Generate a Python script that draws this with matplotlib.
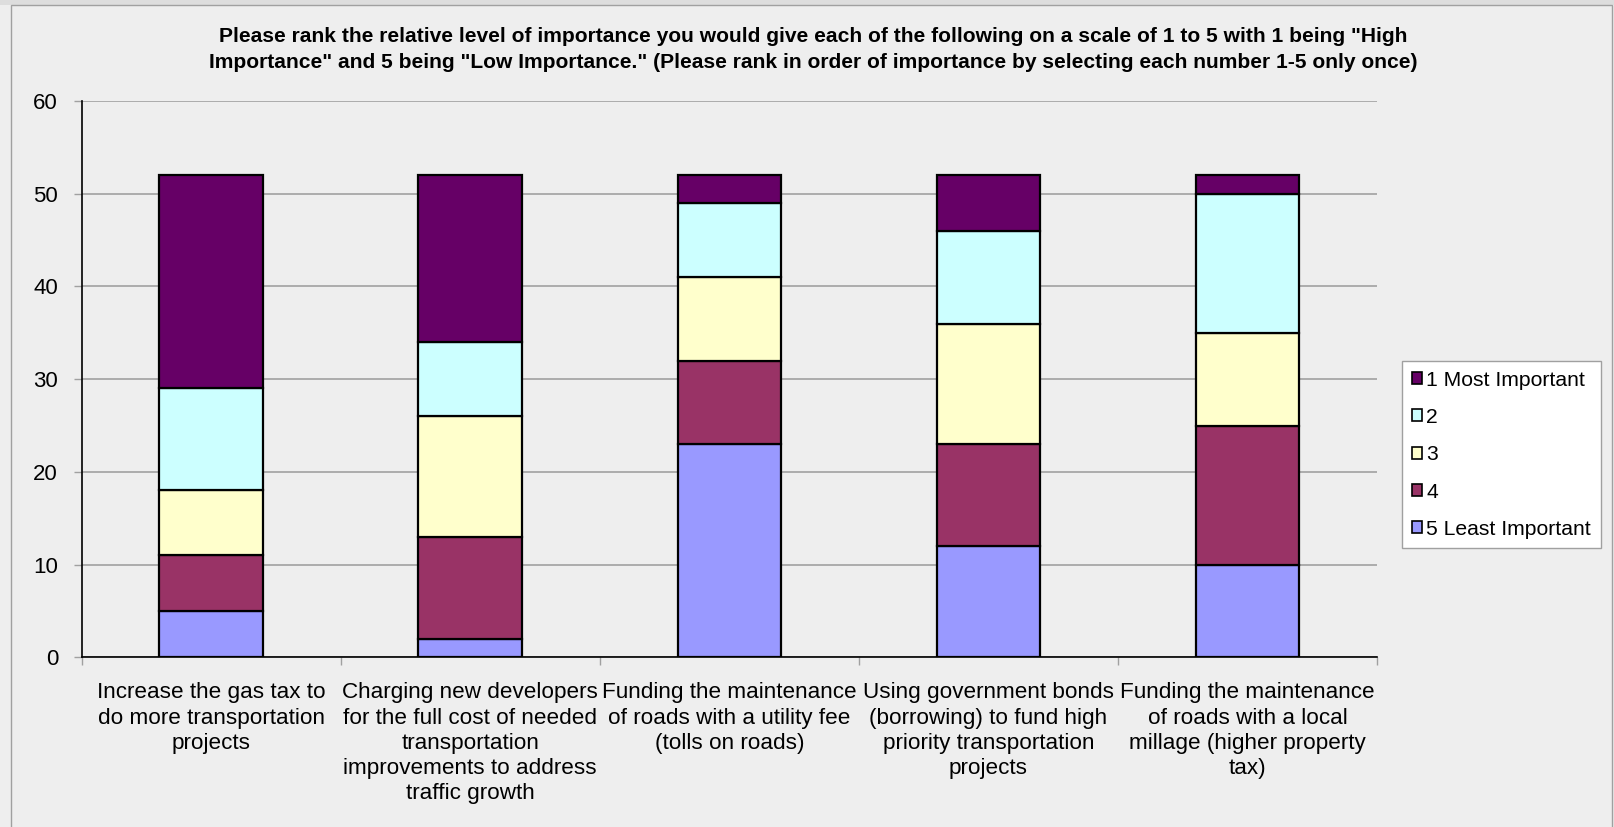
import matplotlib
matplotlib.use("Agg")
import matplotlib.pyplot as plt
from matplotlib.patches import Rectangle
import numpy as np

plt.rcParams['font.family'] = ['Liberation Sans', 'DejaVu Sans']

categories = [
    "Increase the gas tax to\ndo more transportation\nprojects",
    "Charging new developers\nfor the full cost of needed\ntransportation\nimprovements to address\ntraffic growth",
    "Funding the maintenance\nof roads with a utility fee\n(tolls on roads)",
    "Using government bonds\n(borrowing) to fund high\npriority transportation\nprojects",
    "Funding the maintenance\nof roads with a local\nmillage (higher property\ntax)",
]
series_names = ["1 Most Important", "2", "3", "4", "5 Least Important"]
rank1 = [23, 18, 3, 6, 2]
rank2 = [11, 8, 8, 10, 15]
rank3 = [7, 13, 9, 13, 10]
rank4 = [6, 11, 9, 11, 15]
rank5 = [5, 2, 23, 12, 10]
colors = ["#660066", "#CCFFFF", "#FFFFCC", "#993366", "#9999FF"]
title = ('Please rank the relative level of importance you would give each of the following on a scale of 1 to 5 with 1 being "High\n'
         'Importance" and 5 being "Low Importance." (Please rank in order of importance by selecting each number 1-5 only once)')
yticks = [0, 10, 20, 30, 40, 50, 60]

W, H = 1614, 827
fig = plt.figure(figsize=(W / 100, H / 100), dpi=100)
fig.patch.set_facecolor("#EEEEEE")
# top strip and chart frame
fig.patches.append(Rectangle((0, (H - 5) / H), 1, 5 / H, transform=fig.transFigure,
                             facecolor="#DDDDDD", edgecolor="none", zorder=0))
fig.patches.append(Rectangle((11 / W, -0.01), (1612 - 11) / W, (H - 5) / H + 0.01, transform=fig.transFigure,
                             facecolor="none", edgecolor="#A0A0A0", linewidth=1.0, zorder=1))

ax = fig.add_axes([81.7 / W, (H - 657.3) / H, (1377 - 81.7) / W, (657.3 - 101) / H])
ax.set_facecolor("#EEEEEE")

x = np.arange(len(categories))
stack = [rank5, rank4, rank3, rank2, rank1]
stack_names = series_names[::-1]
stack_colors = colors[::-1]
bottom = np.zeros(len(categories))
handles = {}
for vals, name, c in zip(stack, stack_names, stack_colors):
    b = ax.bar(x, vals, width=0.4, bottom=bottom, color=c, edgecolor="black",
               linewidth=1.6, label=name, zorder=3)
    handles[name] = b
    bottom += np.array(vals)

ax.set_xlim(-0.5, len(categories) - 0.5)
ax.set_ylim(0, 60)
ax.set_yticks(yticks)
ax.set_yticklabels([str(v) for v in yticks], fontsize=16)
ax.yaxis.grid(True, color="#A0A0A0", linewidth=1.2, zorder=0)
ax.set_axisbelow(True)
ax.tick_params(axis="y", length=6, color="#A0A0A0", width=1, pad=11)

ax.set_xticks(np.arange(-0.5, len(categories) + 0.5, 1.0))
ax.set_xticklabels([])
ax.tick_params(axis="x", length=6, color="#A0A0A0", width=1)
for i, lab in enumerate(categories):
    ax.text(i, -0.045, lab, transform=ax.get_xaxis_transform(), ha="center", va="top",
            fontsize=16.2, linespacing=1.265)

for s in ["top", "right"]:
    ax.spines[s].set_visible(False)
ax.spines["left"].set_color("black")
ax.spines["bottom"].set_color("black")
ax.spines["left"].set_linewidth(1.2)
ax.spines["bottom"].set_linewidth(1.2)

fig.text(813 / W, (H - 49.5) / H, title, ha="center", va="center", fontsize=15.1,
         fontweight="bold", linespacing=1.5)

leg = fig.legend([handles[n] for n in series_names], series_names,
                 loc="upper left", bbox_to_anchor=(1402 / W, (H - 361) / H),
                 fontsize=15.2, frameon=True, fancybox=False, edgecolor="#A0A0A0",
                 facecolor="white", framealpha=1, handlelength=0.5, handleheight=0.5,
                 handletextpad=0.2, labelspacing=0.87, borderpad=0.45, borderaxespad=0)
leg.get_frame().set_linewidth(1.0)
for p in leg.get_patches():
    p.set_linewidth(1.2)

fig.savefig("out.png", dpi=100, facecolor=fig.get_facecolor())
